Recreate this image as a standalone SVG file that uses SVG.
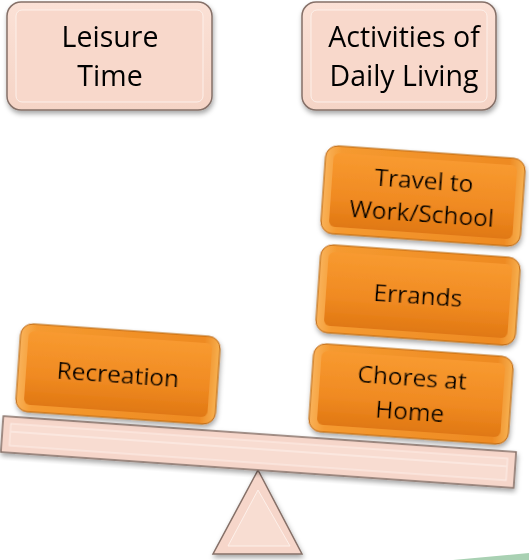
<svg xmlns="http://www.w3.org/2000/svg" width="529" height="560" viewBox="0 0 529 560">
<defs>
  <linearGradient id="pinkG" x1="0" y1="0" x2="0" y2="1">
    <stop offset="0" stop-color="#fbe1d6"/>
    <stop offset="1" stop-color="#f5d4c6"/>
  </linearGradient>
  <linearGradient id="orangeG" x1="0" y1="0" x2="0" y2="1">
    <stop offset="0" stop-color="#f89a30"/>
    <stop offset="0.6" stop-color="#f08a22"/>
    <stop offset="1" stop-color="#e07812"/>
  </linearGradient>
  <linearGradient id="orangeEdge" x1="0" y1="0" x2="1" y2="0">
    <stop offset="0" stop-color="#f9b25a"/>
    <stop offset="0.08" stop-color="#f59a30"/>
    <stop offset="0.92" stop-color="#ee8a22"/>
    <stop offset="1" stop-color="#f7b050"/>
  </linearGradient>
  <filter id="sh" x="-10%" y="-10%" width="125%" height="130%">
    <feDropShadow dx="1" dy="3" stdDeviation="2.5" flood-color="#000" flood-opacity="0.35"/>
  </filter>
</defs>
<style>
  .pink { fill: url(#pinkG); stroke: #857068; stroke-width: 1.5; }
  .pinkIn { fill: #f8d8cb; stroke: #fdf0ea; stroke-width: 1; }
  .orange { fill: url(#orangeEdge); stroke: #b8620c; stroke-width: 1; }
  .orangeIn { fill: url(#orangeG); stroke: none; }
  .title { font-family: "Open Sans", "Liberation Sans", sans-serif; font-size: 28.5px; fill: #000; text-anchor: middle; }
  .lbl { font-family: "Open Sans", "Liberation Sans", sans-serif; font-size: 24.5px; fill: #000; text-anchor: middle; }
</style>

<polygon points="453,560 529,553 529,560" fill="#a9d1b3"/>

<g id="leisure-time" filter="url(#sh)">
  <rect class="pink" x="7" y="2" width="205" height="108" rx="14"/>
  <rect class="pinkIn" x="16" y="10" width="187" height="92" rx="6"/>
  <text class="title" x="110" y="47">Leisure</text>
  <text class="title" x="110" y="86">Time</text>
</g>

<g id="activities" filter="url(#sh)">
  <rect class="pink" x="302" y="2" width="194" height="108" rx="14"/>
  <rect class="pinkIn" x="311" y="10" width="176" height="92" rx="6"/>
  <text class="title" x="404" y="47">Activities of</text>
  <text class="title" x="404" y="86">Daily Living</text>
</g>

<g id="fulcrum" filter="url(#sh)">
  <polygon points="258,470 213,554 302,554" fill="#f6d6ca" stroke="#857068" stroke-width="1.5"/>
  <polygon points="258,490 228,546 290,546" fill="#f8ddd2" stroke="#fdf0ea" stroke-width="1"/>
</g>

<g id="beam" filter="url(#sh)" transform="translate(258.5,452) rotate(4)">
  <rect x="-257" y="-18" width="514" height="36" fill="#f6d6ca" stroke="#857068" stroke-width="1.5"/>
  <rect x="-249" y="-11" width="498" height="22" fill="#f8dcd1" stroke="#fdeee8" stroke-width="1"/>
  <line x1="-249" y1="-3" x2="249" y2="-3" stroke="#fbe7df" stroke-width="2"/>
</g>

<g id="recreation" filter="url(#sh)" transform="translate(118,374) rotate(4)">
  <rect class="orange" x="-100" y="-44" width="200" height="88" rx="12"/>
  <rect class="orangeIn" x="-92" y="-37" width="184" height="74" rx="6"/>
  <text class="lbl" x="0" y="9">Recreation</text>
</g>

<g id="chores" filter="url(#sh)" transform="translate(411,394) rotate(4)">
  <rect class="orange" x="-100" y="-44" width="200" height="88" rx="12"/>
  <rect class="orangeIn" x="-92" y="-37" width="184" height="74" rx="6"/>
  <text class="lbl" x="0" y="-8">Chores at</text>
  <text class="lbl" x="0" y="26">Home</text>
</g>

<g id="errands" filter="url(#sh)" transform="translate(418,295) rotate(4)">
  <rect class="orange" x="-100" y="-44" width="200" height="88" rx="12"/>
  <rect class="orangeIn" x="-92" y="-37" width="184" height="74" rx="6"/>
  <text class="lbl" x="0" y="9">Errands</text>
</g>

<g id="travel" filter="url(#sh)" transform="translate(423,196) rotate(4)">
  <rect class="orange" x="-100" y="-44" width="200" height="88" rx="12"/>
  <rect class="orangeIn" x="-92" y="-37" width="184" height="74" rx="6"/>
  <text class="lbl" x="0" y="-7">Travel to</text>
  <text class="lbl" x="0" y="26">Work/School</text>
</g>

<g id="connectors"></g>
</svg>
